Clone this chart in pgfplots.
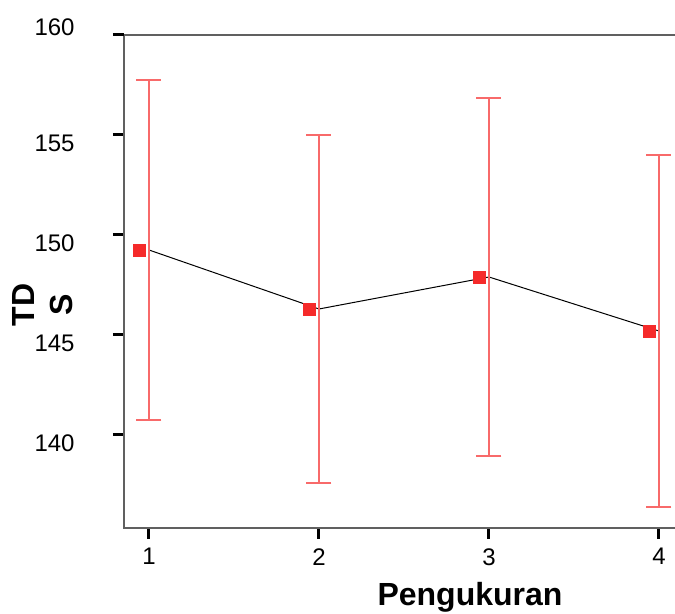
\documentclass[border=0pt]{standalone}
\usepackage{pgfplots}
\pgfplotsset{compat=1.18}
\usepackage{fontspec}
\setmainfont{Liberation Sans}
\definecolor{mk}{HTML}{F52A2A}
\definecolor{eb}{HTML}{F86A6A}
\begin{document}
\begin{tikzpicture}
\begin{axis}[
  scale only axis,
  width=346pt, height=246.5pt,
  xmin=0.853, xmax=4.924, ymin=135.35, ymax=160,
  axis line style={gray!75!black, line width=0.7pt},
  xtick={1,2,3,4}, ytick={140,145,150,155},
  extra y ticks={160},
  extra y tick style={yticklabel style={yshift=8pt}},
  tick align=outside,
  xtick pos=bottom, ytick pos=left,
  major tick length=5.5pt,
  tick style={black, line width=1.5pt},
  /pgf/number format/assume math mode=true,
  ticklabel style={font=\fontsize{12}{14}\selectfont},
  yticklabel style={anchor=east, inner sep=0pt, xshift=-19pt, yshift=-4pt},
  xticklabel style={anchor=north, inner sep=0pt, yshift=-4.5pt},
  xlabel={Pengukuran},
  xlabel style={at={(rel axis cs:0.5,0)}, anchor=center, inner sep=0pt, yshift=-34.75pt, font=\bfseries\fontsize{16}{19}\selectfont},
  ylabel={TD\\S},
  ylabel style={at={([xshift=-40.5pt]rel axis cs:0,0.452)}, anchor=center, align=center, inner sep=0pt, font=\bfseries\fontsize{16}{19}\selectfont},
]
\coordinate (SW) at (rel axis cs:0,0);
\addplot[only marks, mark=square*, mark size=3pt, color=mk, mark options={xshift=-5pt}]
  coordinates {(1,149.25) (2,146.3) (3,147.9) (4,145.2)};
\addplot[black, line width=0.5pt, mark=none,
  error bars/.cd, y dir=both, y explicit,
  error bar style={eb, line width=0.6pt},
  error mark options={rotate=90, mark size=6.25pt, eb, line width=0.6pt}]
  coordinates {(1,149.25) +- (0,8.5) (2,146.3) +- (0,8.7) (3,147.9) +- (0,8.95) (4,145.2) +- (0,8.8)};
\end{axis}
\pgfresetboundingbox
\path[use as bounding box] ([xshift=-62pt,yshift=-43pt]SW) rectangle ([xshift=275.5pt,yshift=264pt]SW);
\end{tikzpicture}
\end{document}
